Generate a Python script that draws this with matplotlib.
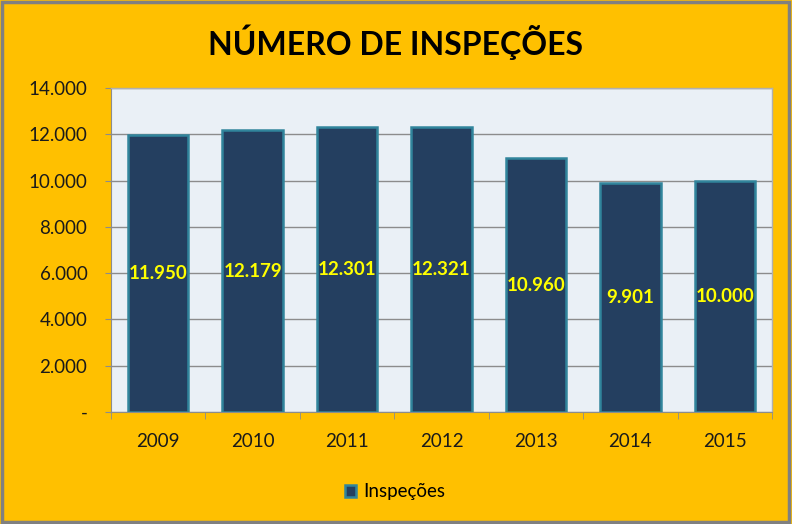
import matplotlib
matplotlib.use("Agg")
import matplotlib.pyplot as plt
from matplotlib.patches import Rectangle
from matplotlib.ticker import FuncFormatter, FixedLocator
import numpy as np

years = ["2009", "2010", "2011", "2012", "2013", "2014", "2015"]
values = [11950, 12179, 12301, 12321, 10960, 9901, 10000]
labels = ["11.950", "12.179", "12.301", "12.321", "10.960", "9.901", "10.000"]
yticks = [0, 2000, 4000, 6000, 8000, 10000, 12000, 14000]

plt.rcParams['font.family'] = ['Lato', 'DejaVu Sans']

fig = plt.figure(figsize=(7.92, 5.24), dpi=100)
fig.patch.set_facecolor('#FFC000')
fig.patches.append(Rectangle((0.002, 0.003), 0.994, 0.994, transform=fig.transFigure,
                             fill=False, edgecolor='#808080', linewidth=2.5))

ax = fig.add_axes([111/792, 1-412/524, 661/792, (412-88)/524])
ax.set_facecolor('#EAF0F6')
x = np.arange(len(years))
bars = ax.bar(x, values, width=0.64, color='#243F60', edgecolor='#31859C', linewidth=1.8,
              label='Inspeções', zorder=3)
for xi, v, lab in zip(x, values, labels):
    ax.text(xi, v/2, lab, ha='center', va='center', color='#FFFF00',
            fontsize=13.5, fontweight='bold', zorder=4)

ax.set_xlim(-0.5, len(years)-0.5)
ax.set_ylim(0, 14000)
ax.set_yticks(yticks)
ax.yaxis.set_major_formatter(FuncFormatter(lambda v, p: '-' if v == 0 else f"{int(v):,}".replace(',', '.')))
ax.grid(axis='y', color='#8C8C8C', linewidth=1, zorder=0)
ax.set_xticks(x)
ax.set_xticklabels(years)
ax.xaxis.set_minor_locator(FixedLocator(np.arange(-0.5, len(years), 1.0)))
ax.tick_params(axis='x', which='major', length=0, pad=15, labelsize=13.5, labelcolor='#1a1a1a')
ax.tick_params(axis='x', which='minor', length=5, color='#8C8C8C', direction='out')
ax.tick_params(axis='y', length=4, color='#8C8C8C', pad=13, labelsize=13.5, labelcolor='#1a1a1a')
for s in ['top', 'right']:
    ax.spines[s].set_color('#B0B0B0')
    ax.spines[s].set_linewidth(1)
ax.spines['left'].set_color('#8C8C8C')
ax.spines['bottom'].set_color('#8C8C8C')

fig.text(395/792, 1-42/524, "NÚMERO DE INSPEÇÕES", ha='center', va='center',
         fontsize=23, fontweight='bold', color='black')

leg = fig.legend(handles=[bars], labels=['Inspeções'], loc='center',
                 bbox_to_anchor=(395/792, 1-492/524), frameon=False, fontsize=13.5,
                 handlelength=0.6, handleheight=0.6, handletextpad=0.4)

fig.savefig('out.png', dpi=100, facecolor=fig.get_facecolor())
